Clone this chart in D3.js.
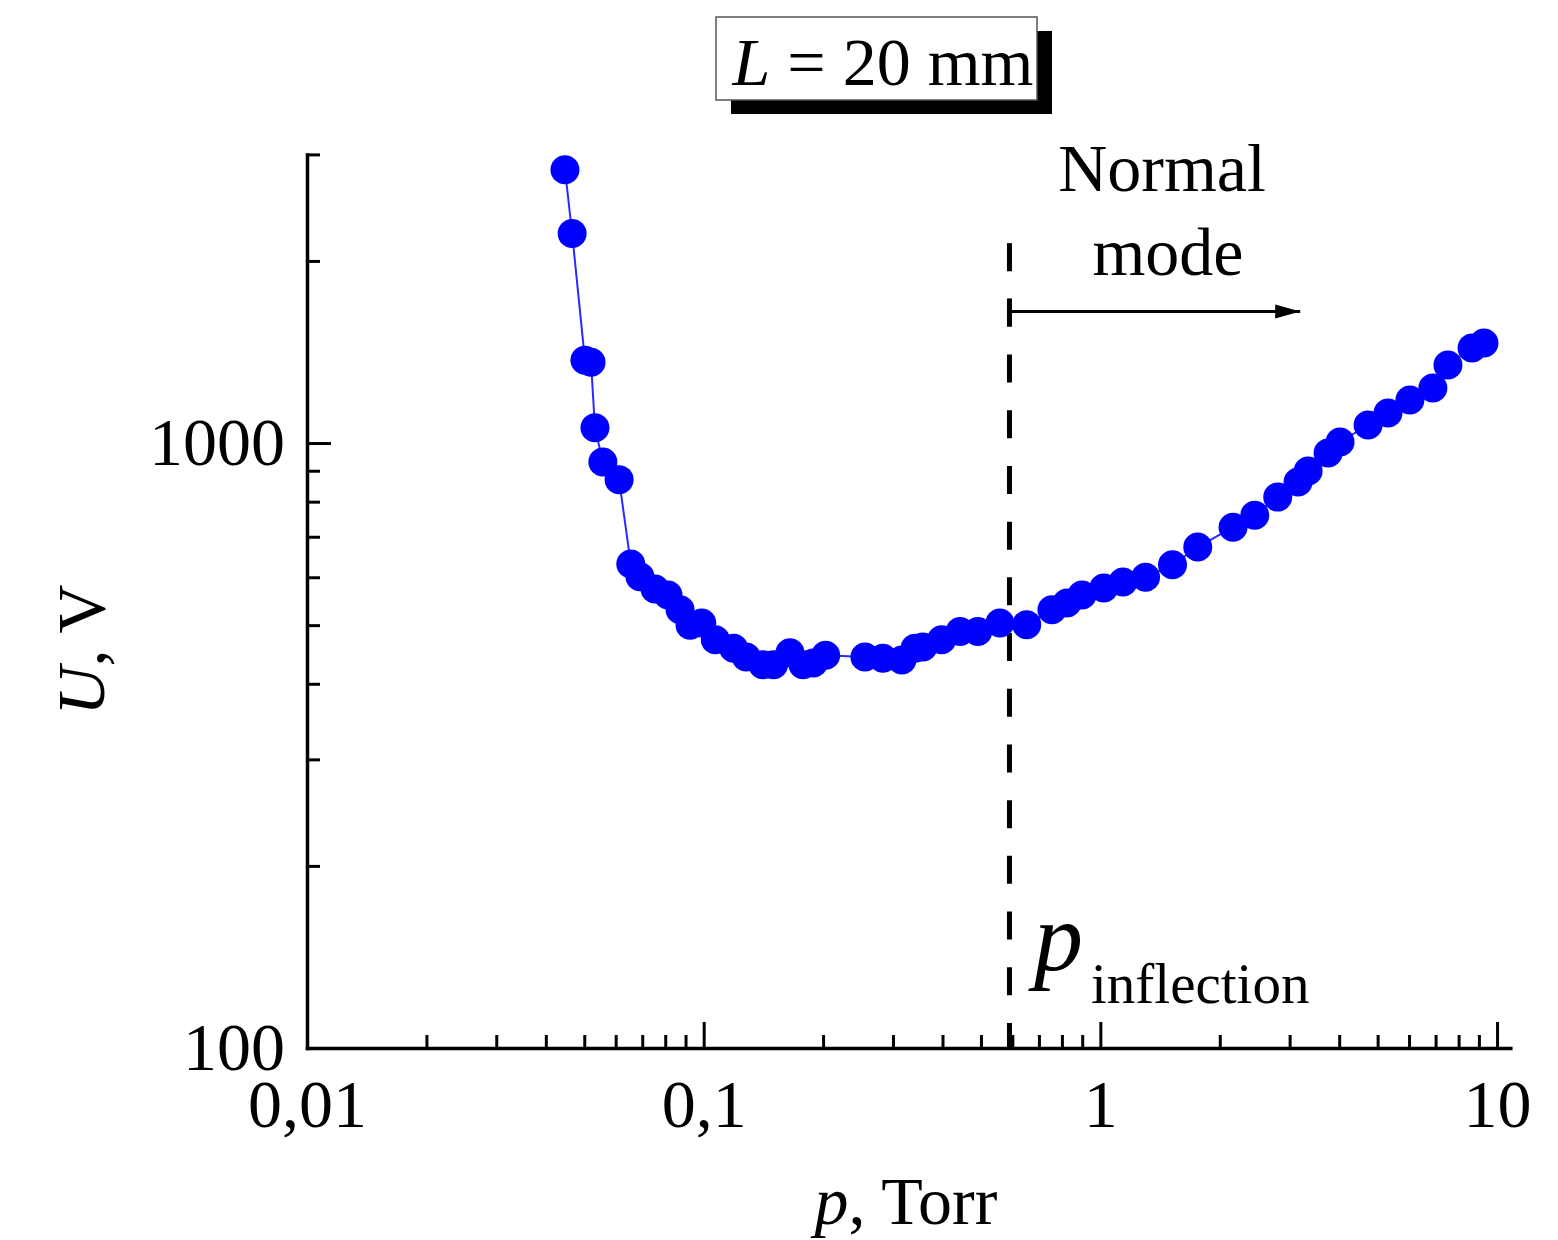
<!DOCTYPE html>
<html>
<head>
<meta charset="utf-8">
<script src="https://cdn.jsdelivr.net/npm/d3@7"></script>
<style>
  html, body { margin: 0; padding: 0; background: #ffffff; }
  svg text { font-family: "Liberation Serif", "Times New Roman", Times, serif; fill: #000; }
</style>
</head>
<body>
<svg id="chart" width="1558" height="1240"></svg>
<script>
// Breakdown voltage U (V) versus gas pressure p (Torr), gap L = 20 mm
const pressure = [
  0.0447, 0.0466, 0.0502, 0.0520, 0.0532, 0.0557, 0.0612,
  0.0655, 0.0691, 0.0754, 0.0813, 0.0872, 0.0924, 0.0989, 0.107, 0.119,
  0.128, 0.141, 0.150, 0.165, 0.178, 0.189, 0.203,
  0.255, 0.283, 0.316, 0.341, 0.357, 0.398, 0.443, 0.491, 0.558, 0.652,
  0.755, 0.824, 0.899, 1.02, 1.14, 1.30, 1.52, 1.76, 2.16, 2.45, 2.80,
  3.15, 3.34, 3.75, 4.02, 4.73, 5.31, 6.03, 6.89, 7.52, 8.65, 9.27
];
const voltage = [
  2830, 2220, 1370, 1360, 1060, 930, 870,
  631, 601, 574, 561, 530, 500, 504, 473, 458,
  443, 430, 430, 450, 430, 433, 446,
  443, 441, 438, 458, 460, 473, 488, 488, 504, 501,
  530, 544, 561, 576, 589, 600, 629, 673, 726, 760, 814,
  862, 899, 963, 1004, 1071, 1121, 1178, 1233, 1346, 1436, 1463
];

// Axis ticks
const xMajorTicks = [0.01, 0.1, 1, 10];
const xMajorLabels = ["0,01", "0,1", "1", "10"];
const xMinorTicks = [0.02, 0.03, 0.04, 0.05, 0.06, 0.07, 0.08, 0.09,
                     0.2, 0.3, 0.4, 0.5, 0.6, 0.7, 0.8, 0.9,
                     2, 3, 4, 5, 6, 7, 8, 9];
const yMajorTicks = [100, 1000];
const yMajorLabels = ["100", "1000"];
const yMinorTicks = [200, 300, 400, 500, 600, 700, 800, 900, 2000, 3000];

// Annotation values
const pInflection = 0.59;     // boundary of the normal mode
const dashTopU = 2140;        // upper end of the dashed marker line
const arrowEndP = 3.19;       // end of the "normal mode" arrow
const arrowU = 1650;          // height of the arrow

const svg = d3.select("#chart");
const FS = 68;

const x = d3.scaleLog().domain([0.01, 10.8]).range([307, 1510.3]);
const y = d3.scaleLog().domain([100, 3000]).range([1048, 154.4]);

// ---- Title box with drop shadow ----
const tb = svg.append("g");
tb.append("rect").attr("x", 731).attr("y", 31).attr("width", 321).attr("height", 83).attr("fill", "#000");
tb.append("rect").attr("x", 716).attr("y", 17).attr("width", 321).attr("height", 83)
  .attr("fill", "#fff").attr("stroke", "#555").attr("stroke-width", 1.5);
const tt = tb.append("text").attr("x", 883).attr("y", 85).attr("text-anchor", "middle").attr("font-size", 68);
tt.append("tspan").attr("font-style", "italic").text("L");
tt.append("tspan").text(" = 20 mm");

// ---- Axes ----
function styleAxis(g, domainVisible) {
  g.attr("font-family", null).attr("font-size", null);
  g.selectAll(".tick line").attr("stroke", "#000").attr("stroke-width", 3);
  g.selectAll(".tick text").attr("font-size", FS).attr("fill", "#000");
  if (domainVisible) {
    g.select(".domain").attr("stroke", "#000").attr("stroke-width", 3.5).attr("stroke-linecap", "square");
  } else {
    g.select(".domain").remove();
  }
}

const xAxisMinor = svg.append("g").attr("transform", "translate(0,1048)")
  .call(d3.axisBottom(x).tickValues(xMinorTicks).tickSize(-13).tickFormat(""));
styleAxis(xAxisMinor, false);

const xAxisMajor = svg.append("g").attr("transform", "translate(0,1048)")
  .call(d3.axisBottom(x).tickValues(xMajorTicks).tickSize(-26).tickSizeOuter(0).tickPadding(31)
    .tickFormat((d, i) => xMajorLabels[i]));
styleAxis(xAxisMajor, true);

const yAxisMinor = svg.append("g").attr("transform", "translate(307,0)")
  .call(d3.axisLeft(y).tickValues(yMinorTicks).tickSize(-13).tickFormat(""));
styleAxis(yAxisMinor, false);

const yAxisMajor = svg.append("g").attr("transform", "translate(307,0)")
  .call(d3.axisLeft(y).tickValues(yMajorTicks).tickSize(-24).tickSizeOuter(0).tickPadding(22)
    .tickFormat((d, i) => yMajorLabels[i]));
styleAxis(yAxisMajor, true);

// Axis titles
const yt = svg.append("text").attr("transform", "translate(104,650) rotate(-90)")
  .attr("text-anchor", "middle").attr("font-size", FS);
yt.append("tspan").attr("font-style", "italic").text("U");
yt.append("tspan").text(", V");

const xt = svg.append("text").attr("x", 906).attr("y", 1224)
  .attr("text-anchor", "middle").attr("font-size", FS);
xt.append("tspan").attr("font-style", "italic").text("p");
xt.append("tspan").text(", Torr");

// ---- Normal-mode annotation ----
svg.append("line")
  .attr("x1", x(pInflection)).attr("x2", x(pInflection))
  .attr("y1", y(dashTopU)).attr("y2", y(100))
  .attr("stroke", "#000").attr("stroke-width", 5)
  .attr("stroke-dasharray", "28 27.7");

svg.append("defs").append("marker")
  .attr("id", "arrowHead").attr("markerUnits", "userSpaceOnUse")
  .attr("markerWidth", 26).attr("markerHeight", 16)
  .attr("refX", 25).attr("refY", 7).attr("orient", "auto")
  .append("path").attr("d", "M0,0 L25,7 L0,14 Z").attr("fill", "#000");

svg.append("line")
  .attr("x1", x(pInflection)).attr("x2", x(arrowEndP))
  .attr("y1", y(arrowU)).attr("y2", y(arrowU))
  .attr("stroke", "#000").attr("stroke-width", 3)
  .attr("marker-end", "url(#arrowHead)");
svg.append("line")
  .attr("x1", x(pInflection)).attr("x2", x(pInflection))
  .attr("y1", y(arrowU) - 13).attr("y2", y(arrowU) + 13)
  .attr("stroke", "#000").attr("stroke-width", 4);

svg.append("text").attr("x", 1162).attr("y", 191).attr("text-anchor", "middle").attr("font-size", FS).text("Normal");
svg.append("text").attr("x", 1168).attr("y", 275).attr("text-anchor", "middle").attr("font-size", FS).text("mode");

const pl = svg.append("text").attr("x", 1034).attr("y", 970);
pl.append("tspan").attr("font-style", "italic").attr("font-size", 98).text("p");
pl.append("tspan").attr("font-size", 57).attr("x", 1091).attr("y", 1003).text("inflection");

// ---- Data: line + markers ----
const points = pressure.map((p, i) => ({ p, u: voltage[i] }));

svg.append("path")
  .datum(points)
  .attr("fill", "none")
  .attr("stroke", "#2a2aff")
  .attr("stroke-width", 2)
  .attr("d", d3.line().x(d => x(d.p)).y(d => y(d.u)));

svg.append("g").selectAll("circle")
  .data(points)
  .join("circle")
  .attr("cx", d => x(d.p))
  .attr("cy", d => y(d.u))
  .attr("r", 14.5)
  .attr("fill", "#0000ff");
</script>
</body>
</html>
